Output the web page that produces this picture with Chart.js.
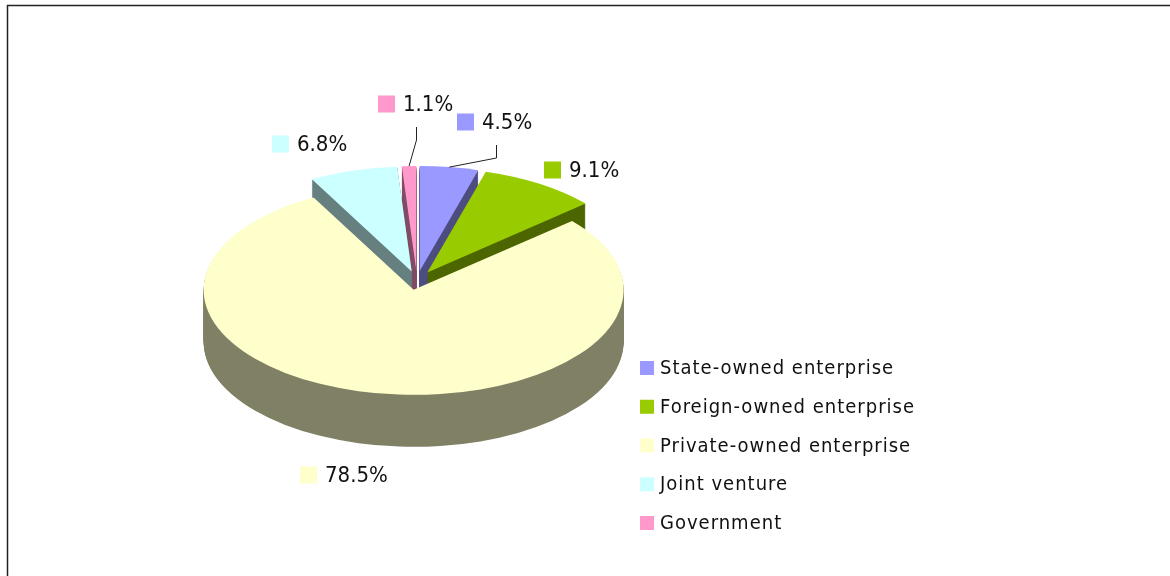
<!DOCTYPE html>
<html lang="en">
<head>
<meta charset="UTF-8">
<title>Enterprise ownership</title>
<style>
  html, body { margin: 0; padding: 0; background: #fff; }
  .janela { position: relative; width: 1170px; height: 576px; }
</style>
</head>
<body>
<div class="janela"><canvas id="myChart"></canvas></div>
<script src="https://cdn.jsdelivr.net/npm/chart.js"></script>
<script>
// categorias e participação (%)
const categorias = ['State-owned enterprise', 'Foreign-owned enterprise', 'Private-owned enterprise', 'Joint venture', 'Government'];
const valores = [4.5, 9.1, 78.5, 6.8, 1.1];
const rotulos = valores.map(v => v.toFixed(1) + '%');

// cores do topo e da lateral de cada fatia
const cores = ['#9999FF', '#99CC00', '#FFFFCC', '#CCFFFF', '#FF99CC'];
const coresLado = ['#4D4D80', '#4D6600', '#808066', '#668080', '#804D66'];

const ACHAT = 0.5;   // achatamento vertical da elipse
const PROF = 52;     // espessura da pizza em px
const FONTE = '"DejaVu Sans Condensed", "DejaVu Sans", sans-serif';

// posição dos rótulos (quadradinho: esquerda, centro vertical) e cotovelo da linha guia
const posRotulos = [[457, 122], [544, 170], [300, 475], [272, 144], [378, 104]];
const guias = [[[496, 145], [496, 158]], null, null, null, [[416, 127], [416, 140]]];

function geo(arc, d) {
  const p = arc.getProps(['x', 'y', 'startAngle', 'endAngle', 'outerRadius'], true);
  const meio = (p.startAngle + p.endAngle) / 2;
  const off = arc.options.offset || 0;
  return {
    cx: p.x + Math.cos(meio) * off,
    cy: p.y + Math.sin(meio) * off * ACHAT + d,
    r: p.outerRadius, a0: p.startAngle, a1: p.endAngle, meio: meio
  };
}

function fatia(ctx, arc, d) {
  const g = geo(arc, d);
  ctx.beginPath();
  ctx.moveTo(g.cx, g.cy);
  ctx.ellipse(g.cx, g.cy, g.r, g.r * ACHAT, 0, g.a0, g.a1);
  ctx.closePath();
}

const moldura = {
  id: 'moldura',
  beforeDraw(chart) {
    const ctx = chart.ctx;
    ctx.save();
    ctx.strokeStyle = '#222';
    ctx.lineWidth = 1.5;
    ctx.beginPath();
    ctx.moveTo(7.5, chart.height);
    ctx.lineTo(7.5, 5.5);
    ctx.lineTo(chart.width, 5.5);
    ctx.stroke();
    ctx.restore();
  }
};

// desenha a pizza com lateral (camadas escuras) e topo
const pizza3d = {
  id: 'pizza3d',
  beforeDatasetsDraw(chart) {
    const ctx = chart.ctx;
    const arcs = chart.getDatasetMeta(0).data;
    ctx.save();
    for (let d = PROF; d >= 0; d--) {
      arcs.forEach((arc, i) => {
        fatia(ctx, arc, d);
        ctx.fillStyle = d === 0 ? cores[i] : coresLado[i];
        ctx.fill();
      });
    }
    ctx.restore();
    return false;
  },
  afterDraw(chart) {
    const ctx = chart.ctx;
    const arcs = chart.getDatasetMeta(0).data;
    ctx.save();

    // linhas guia até a borda da fatia
    ctx.strokeStyle = '#222';
    ctx.lineWidth = 1;
    arcs.forEach((arc, i) => {
      if (!guias[i]) return;
      const g = geo(arc, 0);
      const px = g.cx + Math.cos(g.meio) * g.r;
      const py = g.cy + Math.sin(g.meio) * g.r * ACHAT;
      ctx.beginPath();
      ctx.moveTo(guias[i][0][0] + 0.5, guias[i][0][1]);
      ctx.lineTo(guias[i][1][0] + 0.5, guias[i][1][1]);
      ctx.lineTo(px, py);
      ctx.stroke();
    });

    // rótulos de valor
    ctx.font = '22px ' + FONTE;
    ctx.textBaseline = 'middle';
    rotulos.forEach((txt, i) => {
      const [x, y] = posRotulos[i];
      ctx.fillStyle = cores[i];
      ctx.fillRect(x, y - 8.5, 17, 17);
      ctx.fillStyle = '#111';
      ctx.fillText(txt, x + 25, y + 1);
    });

    // legenda
    ctx.font = '20px ' + FONTE;
    ctx.letterSpacing = '1px';
    categorias.forEach((nome, i) => {
      const y = 368 + i * 38.75;
      ctx.fillStyle = cores[i];
      ctx.fillRect(640, y - 7, 14, 14);
      ctx.fillStyle = '#111';
      ctx.fillText(nome, 660, y + 1);
    });
    ctx.restore();
  }
};

const config = {
  type: 'pie',
  data: {
    labels: categorias,
    datasets: [{
      data: valores,
      backgroundColor: cores,
      borderWidth: 0,
      offset: 19,
      radius: 210
    }]
  },
  options: {
    responsive: true,
    maintainAspectRatio: false,
    animation: false,
    layout: { padding: { left: 0, right: 336, top: 0, bottom: 15 } },
    plugins: {
      legend: { display: false },
      tooltip: { enabled: false }
    }
  },
  plugins: [moldura, pizza3d]
};

let myChart = new Chart(document.getElementById('myChart'), config);
</script>
</body>
</html>
